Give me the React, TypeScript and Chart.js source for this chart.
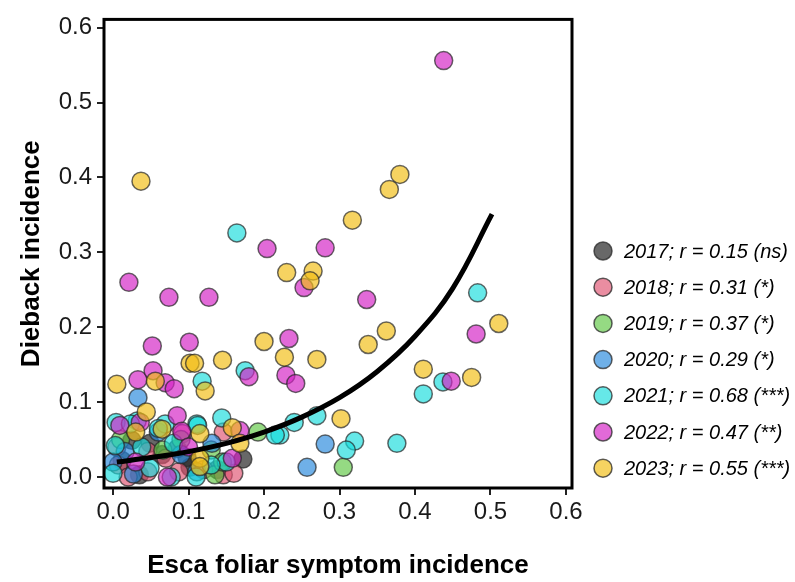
import React, { useEffect, useRef } from "react";
import { Chart, registerables } from "chart.js";

Chart.register(...registerables);

// ---- Data ----
const years = ["2017", "2018", "2019", "2020", "2021", "2022", "2023"];
const legendLabels = [
  "2017; r = 0.15 (ns)",
  "2018; r = 0.31 (*)",
  "2019; r = 0.37 (*)",
  "2020; r = 0.29 (*)",
  "2021; r = 0.68 (***)",
  "2022; r = 0.47 (**)",
  "2023; r = 0.55 (***)",
];
const fillColors = [
  "rgba(40,40,40,0.7)",
  "rgba(222,80,110,0.65)",
  "rgba(92,198,64,0.65)",
  "rgba(34,134,219,0.65)",
  "rgba(20,220,220,0.65)",
  "rgba(212,36,198,0.68)",
  "rgba(241,190,22,0.68)",
];

const pts2017 = [
  [0.025, 0.049], [0.049, 0.045], [0.098, 0.026], [0.172, 0.024], [0.102, 0.013],
  [0.012, 0.022], [0.065, 0.030], [0.138, 0.010], [0.035, 0.003], [0.085, 0.038],
];
const pts2018 = [
  [0.046, 0.034], [0.007, 0.016], [0.046, 0.007], [0.087, 0.007], [0.146, 0.060],
  [0.146, 0.003], [0.005, 0.040], [0.070, 0.025], [0.120, 0.010], [0.020, 0.000],
  [0.160, 0.005], [0.092, 0.058],
];
const pts2019 = [
  [0.192, 0.060], [0.305, 0.013], [0.066, 0.036], [0.130, 0.036], [0.135, 0.003],
  [0.145, 0.020], [0.010, 0.050], [0.090, 0.050],
];
const pts2020 = [
  [0.033, 0.106], [0.257, 0.013], [0.281, 0.044], [0.131, 0.045], [0.016, 0.034],
  [0.027, 0.004], [0.111, 0.007], [0.060, 0.060], [0.090, 0.030], [0.000, 0.020],
];
const pts2021 = [
  [0.164, 0.326], [0.175, 0.142], [0.483, 0.246], [0.437, 0.127], [0.411, 0.111],
  [0.270, 0.082], [0.240, 0.073], [0.221, 0.056], [0.320, 0.048], [0.309, 0.036],
  [0.376, 0.045], [0.118, 0.128], [0.144, 0.079], [0.111, 0.071], [0.004, 0.073],
  [0.032, 0.075], [0.023, 0.071], [0.069, 0.071], [0.112, 0.069], [0.215, 0.056],
  [0.038, 0.040], [0.003, 0.042], [0.049, 0.012], [0.000, 0.005], [0.077, 0.000],
  [0.110, 0.000], [0.080, 0.045], [0.150, 0.020], [0.060, 0.065], [0.130, 0.016],
];
const pts2022 = [
  [0.438, 0.556], [0.021, 0.260], [0.074, 0.240], [0.127, 0.240], [0.204, 0.305],
  [0.281, 0.306], [0.253, 0.253], [0.336, 0.237], [0.052, 0.175], [0.101, 0.180],
  [0.233, 0.185], [0.033, 0.130], [0.053, 0.142], [0.069, 0.126], [0.081, 0.118],
  [0.180, 0.134], [0.229, 0.136], [0.242, 0.125], [0.481, 0.191], [0.448, 0.128],
  [0.085, 0.082], [0.091, 0.061], [0.009, 0.069], [0.036, 0.073], [0.168, 0.062],
  [0.158, 0.025], [0.072, 0.000], [0.100, 0.040], [0.030, 0.020],
];
const pts2023 = [
  [0.037, 0.395], [0.317, 0.343], [0.366, 0.384], [0.380, 0.404], [0.230, 0.273],
  [0.265, 0.275], [0.261, 0.262], [0.200, 0.181], [0.362, 0.195], [0.338, 0.177],
  [0.145, 0.156], [0.227, 0.160], [0.270, 0.157], [0.102, 0.152], [0.108, 0.152],
  [0.005, 0.124], [0.056, 0.128], [0.122, 0.115], [0.411, 0.144], [0.475, 0.133],
  [0.511, 0.205], [0.302, 0.078], [0.044, 0.087], [0.065, 0.064], [0.115, 0.058],
  [0.115, 0.025], [0.158, 0.066], [0.168, 0.045], [0.115, 0.014], [0.030, 0.060],
];
const seriesPoints = [pts2017, pts2018, pts2019, pts2020, pts2021, pts2022, pts2023];

// fitted curve
const curveX = [0.005, 0.05, 0.1, 0.15, 0.2, 0.25, 0.3, 0.35, 0.4, 0.45, 0.502];
const curveY = [0.020, 0.026, 0.034, 0.045, 0.060, 0.080, 0.106, 0.141, 0.188, 0.252, 0.351];

const tickValues = [0, 0.1, 0.2, 0.3, 0.4, 0.5, 0.6];

const FONT = "'Liberation Sans', Arial, sans-serif";

export default function App() {
  const ref = useRef<HTMLCanvasElement | null>(null);

  useEffect(() => {
    document.body.style.margin = "0";
    const canvas = ref.current;
    if (!canvas) return;

    const boxPlugin = {
      id: "boxAndLegend",
      afterDraw(chart: any) {
        const { ctx, chartArea } = chart;
        ctx.save();
        ctx.strokeStyle = "#000";
        ctx.lineWidth = 3;
        ctx.strokeRect(chartArea.left, chartArea.top, chartArea.right - chartArea.left, chartArea.bottom - chartArea.top);
        // legend
        const x0 = 603;
        const y0 = 251;
        const dy = 36.2;
        ctx.font = `italic 20px ${FONT}`;
        ctx.textBaseline = "middle";
        ctx.textAlign = "left";
        legendLabels.forEach((lab, i) => {
          const y = y0 + i * dy;
          ctx.beginPath();
          ctx.arc(x0, y, 9, 0, Math.PI * 2);
          ctx.fillStyle = fillColors[i];
          ctx.fill();
          ctx.lineWidth = 1.5;
          ctx.strokeStyle = "rgba(40,40,40,0.75)";
          ctx.stroke();
          ctx.fillStyle = "#000";
          ctx.fillText(lab, 624, y + 1);
        });
        ctx.restore();
      },
    };

    const datasets: any[] = seriesPoints.map((pts, i) => ({
      type: "scatter",
      label: years[i],
      data: pts.map((p) => ({ x: p[0], y: p[1] })),
      backgroundColor: fillColors[i],
      borderColor: "rgba(40,40,40,0.7)",
      borderWidth: 1.5,
      pointRadius: 9,
      order: 8 - i,
    }));
    datasets.push({
      type: "line",
      label: "fit",
      data: curveX.map((x, i) => ({ x, y: curveY[i] })),
      borderColor: "#000",
      borderWidth: 5,
      pointRadius: 0,
      fill: false,
      tension: 0.4,
      order: 0,
    });

    const axisCommon = (title: string, isY: boolean) => ({
      type: "linear",
      afterBuildTicks: (scale: any) => {
        scale.ticks = tickValues.map((v) => ({ value: v }));
      },
      ticks: {
        callback: (v: number) => Number(v).toFixed(1),
        color: "#1a1a1a",
        font: { family: FONT, size: 24 },
        padding: isY ? 5 : 3,
        maxRotation: 0,
        autoSkip: false,
      },
      grid: {
        display: true,
        drawOnChartArea: false,
        drawTicks: true,
        tickLength: 7,
        color: "#222",
        lineWidth: 2,
      },
      border: { display: false },
      title: {
        display: true,
        text: title,
        color: "#000",
        font: { family: FONT, size: 26, weight: "bold" },
        padding: isY ? { top: 16, bottom: 0 } : { top: 0, bottom: 1 },
      },
    });

    const chart = new Chart(canvas, {
      type: "scatter",
      data: { datasets },
      plugins: [boxPlugin],
      options: {
        animation: false,
        responsive: false,
        devicePixelRatio: 1,
        layout: { padding: { left: 0, top: 16, right: 223, bottom: 0 } },
        plugins: { legend: { display: false }, tooltip: { enabled: false } },
        scales: {
          x: {
            ...axisCommon("Esca foliar symptom incidence", false),
            min: -0.012,
            max: 0.608,
            afterFit: (scale: any) => {
              scale.height = 94;
            },
          },
          y: {
            ...axisCommon("Dieback incidence", true),
            min: -0.0146,
            max: 0.611,
            afterFit: (scale: any) => {
              scale.width = 104;
            },
          },
        },
      } as any,
    });

    return () => chart.destroy();
  }, []);

  return (
    <div style={{ width: 795, height: 582 }}>
      <canvas ref={ref} width={795} height={582} />
    </div>
  );
}
